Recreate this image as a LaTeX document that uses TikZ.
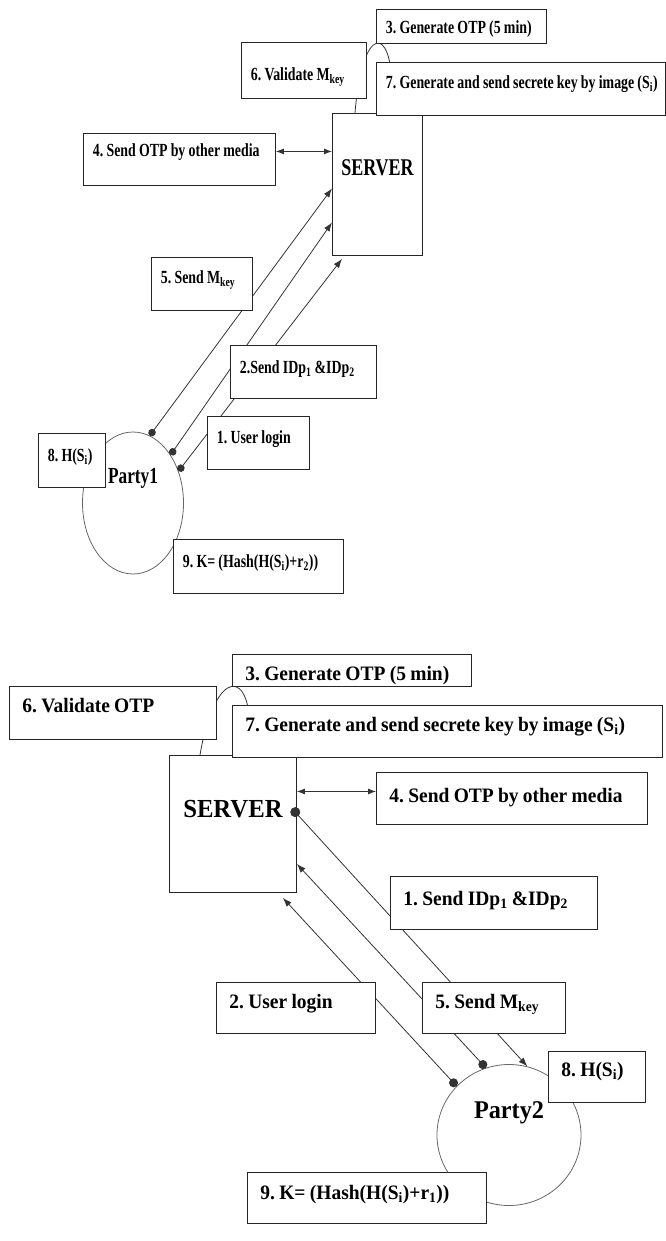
\documentclass[tikz,border=0pt]{standalone}
\usepackage{fontspec}
\newfontfamily\topfont{Liberation Serif}[FakeStretch=0.75]
\newfontfamily\botfont{Liberation Serif}[FakeStretch=0.95]
\usetikzlibrary{shapes.geometric, arrows.meta}
\tikzset{
  conn/.style={draw=black!80, line width=0.8pt},
  box/.style n args={3}{draw=black!85, line width=0.9pt, fill=white, anchor=north west,
    align=left, inner ysep=0pt, text width=#1, text height=#2, text depth=#3,
    execute at begin node={\frenchspacing\hbox\bgroup}, execute at end node={\egroup}},
  srvbox/.style n args={3}{draw=black!85, line width=0.9pt, fill=white, anchor=north west,
    align=center, inner sep=0pt, text width=#1, text height=#2, text depth=#3},
  party/.style={ellipse, draw=black!60, line width=0.8pt, inner sep=0pt},
  dotto/.style={arrows={Circle[length=#1]-Latex[length=9pt,width=6.5pt]}},
  both/.style={arrows={Latex[length=8pt,width=6pt]-Latex[length=8pt,width=6pt]}},
}

\begin{document}
\begin{tikzpicture}[x=1pt, y=-1pt]
  \useasboundingbox (0,0) rectangle (665,1241);

  % first exchange: Party1 and server
  \begin{scope}[every node/.append style={font=\topfont\bfseries\fontsize{18.5}{21}\selectfont,
      execute at begin node={\spaceskip=3.2pt\relax}, inner xsep=9.5pt}]
    \node[party, minimum width=101pt, minimum height=142pt, text height=1pt, text depth=40pt,
      font=\topfont\bfseries\fontsize{23}{25}\selectfont] (partya) at (133,503) {Party1};
    \node[srvbox={90pt}{62pt}{80pt}, font=\topfont\bfseries\fontsize{24}{26}\selectfont] (srva) at (332,113) {SERVER};

    \draw[conn] ([xshift=23pt]srva.north west) .. controls (362,24) and (392,24) .. (392,90);
    \draw[conn, dotto=7.5pt] (partya.76) -- ([yshift=-4pt]srva.west);
    \draw[conn, dotto=7.5pt] (partya.52) -- ([yshift=-38pt]srva.west);
    \draw[conn, dotto=7.5pt] (partya.35) -- ([xshift=10pt, yshift=-3pt]srva.south west);

    \node[box={151pt}{24pt}{10pt}] (gen3a) at (376,9) {3. Generate OTP (5 min)};
    \node[box={106pt}{38pt}{18pt}] (val6a) at (241,42) {6. Validate M\textsubscript{key}};
    \node[box={270pt}{26pt}{27pt}] (key7a) at (376,62) {7. Generate and send secrete key by image (S\textsubscript{i})};
    \node[box={173pt}{23pt}{29pt}] (media4a) at (83,133) {4. Send OTP by other media};
    \node[box={82pt}{26pt}{27pt}] (mkey5a) at (151,257) {5. Send M\textsubscript{key}};
    \node[box={127pt}{28pt}{25pt}] (ids2a) at (230,345) {2.Send IDp\textsubscript{1} \&IDp\textsubscript{2}};
    \node[box={83pt}{27pt}{26pt}] (login1a) at (207,416) {1. User login};
    \node[box={48pt}{28pt}{26pt}] (hash8a) at (38,433) {8. H(S\textsubscript{i})};
    \node[box={151pt}{28pt}{26pt}] (k9a) at (173,539) {9. K= (Hash(H(S\textsubscript{i})+r\textsubscript{2}))};

    \coordinate (m4a) at ([yshift=8pt]media4a.east);
    \draw[conn, both] (m4a) -- (m4a -| srva.west);
  \end{scope}

  % second exchange: Party2 and server
  \begin{scope}[every node/.append style={font=\botfont\bfseries\fontsize{20.5}{23}\selectfont,
      execute at begin node={\spaceskip=4.3pt\relax}, inner xsep=13pt}]
    \node[party, minimum width=144pt, minimum height=141pt, text height=1pt, text depth=34pt,
      font=\botfont\bfseries\fontsize{25.5}{28}\selectfont] (partyb) at (509,1135) {Party2};
    \node[srvbox={127pt}{62pt}{75pt}, font=\botfont\bfseries\fontsize{26}{28}\selectfont] (srvb) at (169,755) {SERVER};

    \draw[conn] ([xshift=31pt]srvb.north west) .. controls (215,666) and (253,666) .. (250,740);
    \draw[conn, dotto=10pt] ([xshift=-5pt, yshift=15.5pt]srvb.east) -- (partyb.75);
    \draw[conn, dotto=9pt] (partyb.109) -- ([yshift=-40pt]srvb.east);
    \draw[conn, dotto=9pt] (partyb.137) -- ([xshift=-14pt, yshift=-5pt]srvb.south east);

    \node[box={213pt}{26pt}{6pt}] (gen3b) at (232,654) {3. Generate OTP (5 min)};
    \node[box={181pt}{26pt}{27pt}] (val6b) at (9,686) {6. Validate OTP};
    \node[box={404pt}{26pt}{26pt}] (key7b) at (232,705) {7. Generate and send secrete key by image (S\textsubscript{i})};
    \node[box={245pt}{30pt}{22pt}] (media4b) at (376,772) {4. Send OTP by other media};
    \node[box={181pt}{29pt}{24pt}] (ids1b) at (390,876) {1. Send IDp\textsubscript{1} \&IDp\textsubscript{2}};
    \node[box={133pt}{26pt}{25pt}] (login2b) at (216,982) {2. User login};
    \node[box={117pt}{26pt}{25pt}] (mkey5b) at (422,982) {5. Send M\textsubscript{key}};
    \node[box={71pt}{25pt}{26pt}] (hash8b) at (548,1051) {8. H(S\textsubscript{i})};
    \node[box={213pt}{27pt}{24pt}] (k9b) at (247,1172) {9. K= (Hash(H(S\textsubscript{i})+r\textsubscript{1}))};

    \coordinate (m4b) at ([yshift=7pt]media4b.west);
    \draw[conn, both] (m4b -| srvb.east) -- (m4b);
  \end{scope}
\end{tikzpicture}
\end{document}
